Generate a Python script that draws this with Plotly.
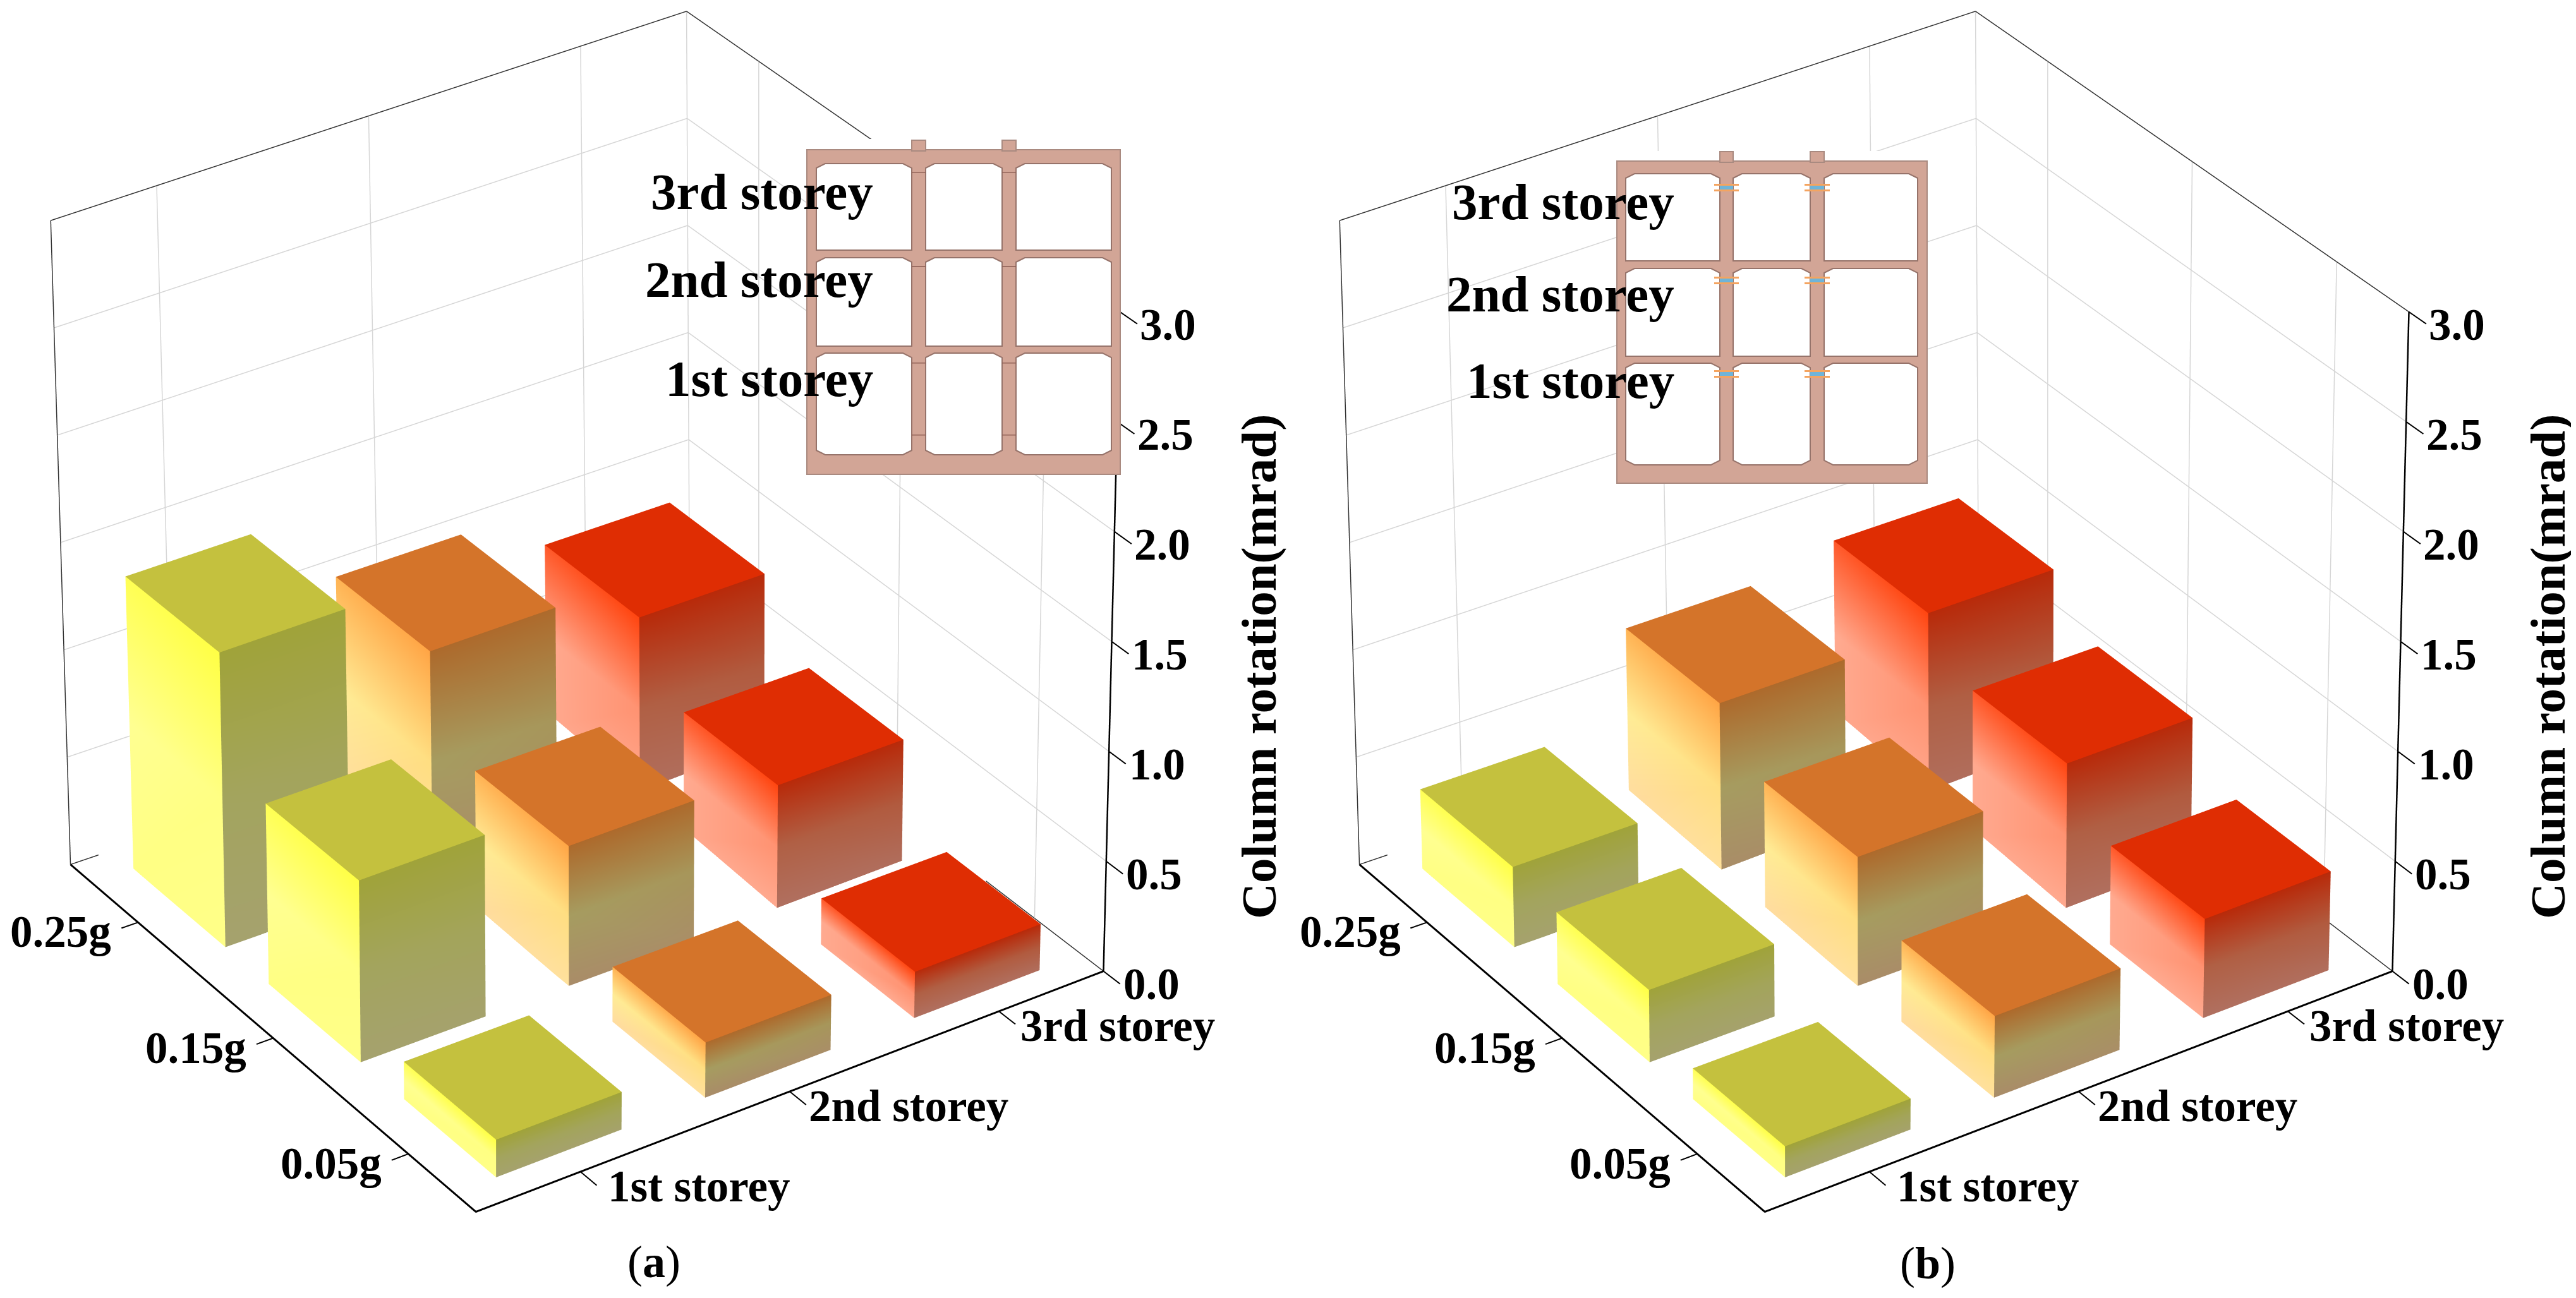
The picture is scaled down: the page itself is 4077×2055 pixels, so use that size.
import plotly.graph_objects as go

W, H = 4077, 2055
storeys = [1, 2, 3]
storey_labels = ["1st storey", "2nd storey", "3rd storey"]
g_levels = [0.05, 0.15, 0.25]
g_labels = ["0.05g", "0.15g", "0.25g"]
z_ticks = [0.0, 0.5, 1.0, 1.5, 2.0, 2.5, 3.0]
z_labels = ["0.0", "0.5", "1.0", "1.5", "2.0", "2.5", "3.0"]

# rows: g level, columns: storey
values_a = [[0.17, 0.25, 0.21],
            [0.83, 0.64, 0.57],
            [1.36, 1.03, 0.85]]
values_b = [[0.14, 0.37, 0.45],
            [0.33, 0.59, 0.67],
            [0.37, 0.79, 0.87]]

BAR_HALF_X, BAR_HALF_Y = 0.30, 0.034
X_LIM, Y_LIM, Z_LIM = (0.5, 3.5), (0.0, 0.3), (0.0, 3.0)

# The reference has a weak perspective; an orthographic camera plus these small
# corner corrections (screen px at 1568 wide, keyed by (x-end, y-end, z-end)) imitates it.
CORNER_FIX = {(0, 0, 0): (0, 0), (1, 0, 0): (0, -3), (0, 1, 0): (0, 2), (1, 1, 0): (-5, 17),
              (0, 0, 1): (0, 0), (1, 0, 1): (10, 1), (0, 1, 1): (-12, 15), (1, 1, 1): (-7, 31)}

top_colors = ["#C4C13E", "#D4742A", "#DF2D03"]
left_stops = [["#FFFF45", "#FFFF96", "#FFFF84"],
              ["#FFA545", "#FFF094", "#FFDCA0"],
              ["#FF4510", "#FFAA90", "#FFAA90"]]
right_stops = [["#A0A33A", "#A3A45E", "#A5A26E"],
               ["#AD6A2C", "#A69C60", "#A98C68"],
               ["#B82A0A", "#B06045", "#B07060"]]

SERIF = "Liberation Serif"


def hex2rgb(h):
    return [int(h[i:i + 2], 16) for i in (1, 3, 5)]


def ramp(stops, t):
    t = max(0.0, min(1.0, t)) * (len(stops) - 1)
    i = min(int(t), len(stops) - 2)
    f = t - i
    a, b = hex2rgb(stops[i]), hex2rgb(stops[i + 1])
    return "rgb(%d,%d,%d)" % tuple(round(a[c] + (b[c] - a[c]) * f) for c in range(3))


def warp(x, y, z):
    u = (x - X_LIM[0]) / (X_LIM[1] - X_LIM[0])
    v = (y - Y_LIM[0]) / (Y_LIM[1] - Y_LIM[0])
    t = (z - Z_LIM[0]) / (Z_LIM[1] - Z_LIM[0])
    sx = sy = 0.0
    for (a, b, c), (ox, oy) in CORNER_FIX.items():
        w = (u if a else 1 - u) * (v if b else 1 - v) * (t if c else 1 - t)
        sx += w * ox
        sy += w * oy
    du = sx / 538.7
    dv = -0.64 * du
    dt = -sy / 402.0
    return (x + du * (X_LIM[1] - X_LIM[0]), y + dv * (Y_LIM[1] - Y_LIM[0]), z + dt * (Z_LIM[1] - Z_LIM[0]))


def bar_mesh(values):
    X, Y, Z, I, J, K, C = [], [], [], [], [], [], []

    def add(p, col):
        x, y, z = warp(*p)
        X.append(x); Y.append(y); Z.append(z); C.append(col)
        return len(X) - 1

    for gi, gv in enumerate(g_levels):
        for si, sv in enumerate(storeys):
            h = values[gi][si]
            x0, x1 = sv - BAR_HALF_X, sv + BAR_HALF_X
            y0, y1 = gv - BAR_HALF_Y, gv + BAR_HALF_Y
            # top
            a = [add((x, y, h), top_colors[si]) for x, y in ((x0, y0), (x1, y0), (x1, y1), (x0, y1))]
            I += [a[0], a[0]]; J += [a[1], a[2]]; K += [a[2], a[3]]
            n = 2
            # bright face (x = x0), dark face (y = y0)
            for face in (0, 1):
                for r in range(n):
                    t0, t1 = r / n, (r + 1) / n
                    z0, z1 = h * (1 - t0), h * (1 - t1)
                    if face == 0:
                        st = left_stops[si]
                        p = [((x0, y0, z0), t0 - 0.12), ((x0, y1, z0), t0 + 0.10),
                             ((x0, y1, z1), t1 + 0.10), ((x0, y0, z1), t1 - 0.12)]
                    else:
                        st = right_stops[si]
                        p = [((x0, y0, z0), t0), ((x1, y0, z0), t0 - 0.06),
                             ((x1, y0, z1), t1 - 0.06), ((x0, y0, z1), t1)]
                    a = [add(q, ramp(st, t)) for q, t in p]
                    I += [a[0], a[0]]; J += [a[1], a[2]]; K += [a[2], a[3]]
    return go.Mesh3d(x=X, y=Y, z=Z, i=I, j=J, k=K, vertexcolor=C, flatshading=False,
                     lighting=dict(ambient=1, diffuse=0, specular=0, roughness=1, fresnel=0),
                     hoverinfo="skip", showscale=False)


def polyline(segments, color, width):
    xs, ys, zs = [], [], []
    for seg in segments:
        for p in seg:
            x, y, z = warp(*p)
            xs.append(x); ys.append(y); zs.append(z)
        xs.append(None); ys.append(None); zs.append(None)
    return go.Scatter3d(x=xs, y=ys, z=zs, mode="lines", line=dict(color=color, width=width),
                        hoverinfo="skip", showlegend=False)


def frame_traces():
    xa, xb = X_LIM
    ya, yb = Y_LIM
    ztop = Z_LIM[1]
    grid = []
    for zv in z_ticks[1:-1]:
        grid.append([(xa, yb, zv), (xb, yb, zv), (xb, ya, zv)])
    for s in storeys:
        grid.append([(s, yb, 0), (s, yb, ztop)])
    for g in g_levels:
        grid.append([(xb, g, 0), (xb, g, ztop)])
    grid.append([(xb, yb, 0), (xb, yb, ztop)])
    thin = [[(xa, yb, ztop), (xb, yb, ztop), (xb, ya, ztop)],
            [(xa, yb, 0), (xa, yb, ztop)],
            [(xa, yb, 0), (xb, yb, 0), (xb, ya, 0)]]
    bold = [[(xa, yb, 0), (xa, ya, 0), (xb, ya, 0)]]
    bold2 = [[(xb, ya, 0), (xb, ya, ztop)]]
    ticks = []
    for s in storeys:
        ticks.append([(s, ya, 0), (s, ya - 0.012, 0)])
    for g in g_levels:
        ticks.append([(xa, g, 0), (xa - 0.08, g, 0)])
    for zv in z_ticks:
        ticks.append([(xb, ya, zv), (xb, ya - 0.012, zv)])
    return [polyline(grid, "#D6D6D6", 3), polyline(thin, "#333333", 3),
            polyline(bold, "#000000", 6), polyline(bold2, "#000000", 5),
            polyline(ticks, "#000000", 4)]


def scene_notes():
    font = dict(family=SERIF, size=71, color="black")
    notes = []
    for s, t in zip(storeys, storey_labels):
        x, y, z = warp(s, Y_LIM[0], 0)
        notes.append(dict(x=x, y=y, z=z, text="<b>%s</b>" % t, showarrow=False, xshift=188, yshift=-23, font=font))
    for g, t in zip(g_levels, g_labels):
        x, y, z = warp(X_LIM[0], g, 0)
        notes.append(dict(x=x, y=y, z=z, text="<b>%s</b>" % t, showarrow=False, xshift=-122, yshift=-15, font=font))
    for zv, t in zip(z_ticks, z_labels):
        x, y, z = warp(X_LIM[1], Y_LIM[0], zv)
        notes.append(dict(x=x, y=y, z=z, text="<b>%s</b>" % t, showarrow=False, xshift=76, yshift=-20, font=font))
    return notes


ZOOM = 1.135
S_AX, S_AY, S_AZ = 1.02 * ZOOM, 1.0 * ZOOM, 1.10 * ZOOM
XR, YR, ZR = (0.3, 3.7), (-0.03, 0.33), (-0.02, 3.02)


def scene_layout(dom):
    ax = dict(visible=False, showgrid=False, zeroline=False, showbackground=False, showspikes=False)
    return dict(
        domain=dict(x=dom, y=[0, 1]),
        xaxis=dict(range=list(XR), **ax), yaxis=dict(range=list(YR), **ax), zaxis=dict(range=list(ZR), **ax),
        aspectmode="manual",
        aspectratio=dict(x=S_AX * (XR[1] - XR[0]) / 3, y=S_AY * (YR[1] - YR[0]) / 0.3, z=S_AZ * (ZR[1] - ZR[0]) / 3),
        camera=dict(projection=dict(type="orthographic"),
                    eye=dict(x=-0.958, y=-1.454, z=1.08), center=dict(x=0, y=0, z=-0.128), up=dict(x=0, y=0, z=1)),
        bgcolor="rgba(0,0,0,0)", annotations=scene_notes())


fig = go.Figure()
for name, vals in (("scene", values_a), ("scene2", values_b)):
    fig.add_trace(bar_mesh(vals).update(scene=name))
    for tr in frame_traces():
        fig.add_trace(tr.update(scene=name))

shapes, annos = [], []


def px(x): return x / W
def py(y): return 1 - y / H


def rect(x0, y0, x1, y1, fill, line=None, lw=0):
    shapes.append(dict(type="rect", xref="paper", yref="paper", x0=px(x0), x1=px(x1), y0=py(y0), y1=py(y1),
                       fillcolor=fill, line=dict(color=line or fill, width=lw), layer="above"))


def window(x0, y0, x1, y1, top_ch, bot_ch):
    c = 14
    pts = []
    if top_ch:
        pts += [(x0, y0 + 7), (x0 + c, y0), (x1 - c, y0), (x1, y0 + 7)]
    else:
        pts += [(x0, y0), (x1, y0)]
    if bot_ch:
        pts += [(x1, y1 - 7), (x1 - c, y1), (x0 + c, y1), (x0, y1 - 7)]
    else:
        pts += [(x1, y1), (x0, y1)]
    path = "M" + " L".join("%.5f,%.5f" % (px(a), py(b)) for a, b in pts) + " Z"
    shapes.append(dict(type="path", xref="paper", yref="paper", path=path, fillcolor="white",
                       line=dict(color="#96736A", width=2), layer="above"))


def inset(blank, outer, tabs, tab_top, wx, wy, marks=None, dampers=None):
    rect(*blank, "white")
    rect(*outer, "#D2A596", "#A98A80", 2)
    for a, b in tabs:
        rect(a, tab_top, b, outer[1] + 2, "#D2A596", "#A98A80", 2)
    for ri, (y0, y1) in enumerate(wy):
        for (x0, x1) in wx:
            window(x0, y0, x1, y1, True, ri == len(wy) - 1)
    for a, b in tabs:
        if marks:
            for m in marks:
                rect(a, m, b, m + 1.5, "#8E5F55")
        if dampers:
            for d in dampers:
                rect(a - 9, d, b + 9, d + 3, "#F4A460")
                rect(a, d + 3, b, d + 9, "#6FB4D8")
                rect(a - 9, d + 9, b + 9, d + 12, "#F4A460")


inset((1269, 212, 1765, 743), (1269, 229, 1765, 743), [(1435, 1457), (1578, 1600)], 214,
      [(1284, 1435), (1457, 1578), (1600, 1751)], [(251, 388), (400, 540), (551, 712)],
      marks=[264, 413, 566, 680])
inset((2551, 231, 3042, 757), (2551, 247, 3042, 757), [(2714, 2735), (2857, 2879)], 232,
      [(2565, 2714), (2735, 2857), (2879, 3027)], [(267, 405), (417, 556), (567, 728)],
      dampers=[283, 430, 578])


def note(x, y, text, size, anchor="center", angle=0):
    annos.append(dict(xref="paper", yref="paper", x=px(x), y=py(y), text=text, showarrow=False, textangle=angle,
                      xanchor=anchor, yanchor="middle", font=dict(family=SERIF, size=size, color="black")))


for ys, right in (((296, 435, 592), 1376), ((312, 458, 595), 2644)):
    for y, t in zip(ys, storey_labels[::-1]):
        note(right, y, "<b>%s</b>" % t, 81, anchor="right")
note(1984, 1047, "<b>Column rotation(mrad)</b>", 79, angle=-90)
note(4024, 1047, "<b>Column rotation(mrad)</b>", 79, angle=-90)
note(1027, 1990, "(<b>a</b>)", 72)
note(3043, 1992, "(<b>b</b>)", 72)

fig.update_layout(width=W, height=H, margin=dict(l=0, r=0, t=0, b=0), paper_bgcolor="white",
                  showlegend=False, shapes=shapes, annotations=annos,
                  scene=scene_layout([0, 0.4518]), scene2=scene_layout([0.5004, 0.9522]))
fig.write_html("out.html", config=dict(displayModeBar=False))
